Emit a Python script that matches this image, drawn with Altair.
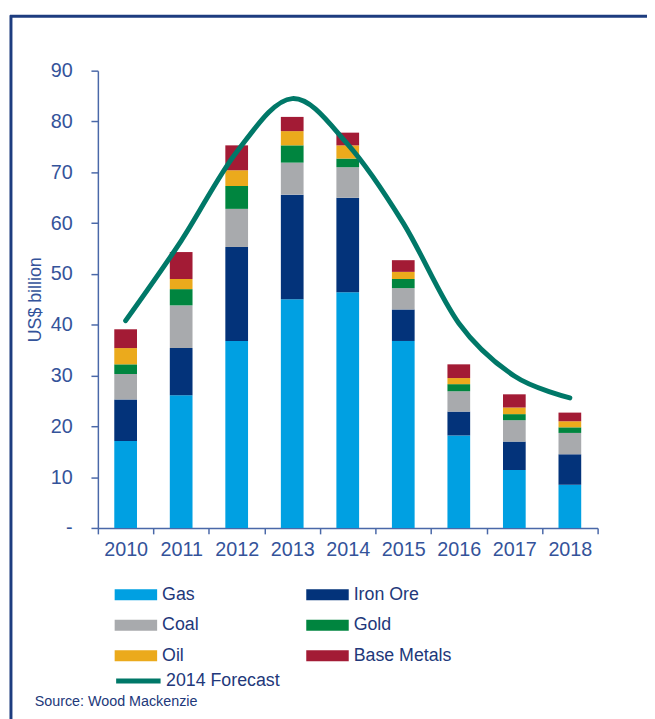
import altair as alt
import pandas as pd

years = ["2010", "2011", "2012", "2013", "2014", "2015", "2016", "2017", "2018"]
commodities = ["Gas", "Iron Ore", "Coal", "Gold", "Oil", "Base Metals"]
legend_order = ["Gas", "Coal", "Oil", "Iron Ore", "Gold", "Base Metals"]
colors = ["#00a0e2", "#03337a", "#a8aaad", "#00853f", "#ebaa1c", "#a31b35"]

gas = [17.1, 26.1, 36.8, 45.0, 46.4, 36.8, 18.2, 11.4, 8.5]
iron_ore = [8.2, 9.3, 18.5, 20.6, 18.6, 6.2, 4.7, 5.6, 6.0]
coal = [5.0, 8.4, 7.5, 6.3, 6.0, 4.2, 4.0, 4.2, 4.2]
gold = [1.9, 3.2, 4.5, 3.4, 1.7, 1.8, 1.4, 1.2, 1.1]
oil = [3.2, 2.0, 3.1, 2.8, 2.6, 1.4, 1.2, 1.3, 1.2]
base_metals = [3.7, 5.3, 4.9, 2.8, 2.5, 2.3, 2.7, 2.6, 1.7]

forecast_name = "2014 Forecast"
forecast = [40.8, 56.5, 74.0, 84.5, 75.5, 60.0, 40.3, 29.9, 25.6]
forecast_color = "#007868"

y_ticks = [0, 10, 20, 30, 40, 50, 60, 70, 80, 90]
y_title = "US$ billion"
source_text = "Source: Wood Mackenzie"

FONT = "Liberation Sans"
AXIS_COLOR = "#4a68a8"
LABEL_COLOR = "#34539a"
TEXT_COLOR = "#22387a"
FRAME_COLOR = "#1d3c7f"

series = [gas, iron_ore, coal, gold, oil, base_metals]
rows = []
for i, yr in enumerate(years):
    for j, (name, vals) in enumerate(zip(commodities, series)):
        rows.append({"year": yr, "commodity": name, "value": vals[i], "order": j})
bars_df = pd.DataFrame(rows)
line_df = pd.DataFrame({"year": years, "value": forecast, "series": [forecast_name] * len(years)})
one = pd.DataFrame({"t": [source_text]})

x_enc = alt.X(
    "year:N",
    scale=alt.Scale(domain=years, paddingInner=0, paddingOuter=0),
    axis=alt.Axis(
        title=None, labelAngle=0, tickBand="extent", tickSize=6, labelPadding=6,
        labelFontSize=20, labelColor=LABEL_COLOR, domainColor=AXIS_COLOR,
        tickColor=AXIS_COLOR, domainWidth=1.5, tickWidth=1.5,
    ),
)
y_scale = alt.Scale(domain=[0, 90], nice=False)

bars = alt.Chart(bars_df).mark_bar(size=23).encode(
    x=x_enc,
    y=alt.Y(
        "value:Q", stack="zero", scale=y_scale,
        axis=alt.Axis(
            values=y_ticks, labelExpr="datum.value == 0 ? '-' : datum.label",
            grid=False, tickSize=7, labelPadding=19, labelFontSize=20,
            labelColor=LABEL_COLOR, domainColor=AXIS_COLOR, tickColor=AXIS_COLOR,
            domainWidth=1.5, tickWidth=1.5,
            title=y_title, titleFontSize=18, titleFontWeight="normal",
            titleColor=LABEL_COLOR, titlePadding=6,
        ),
    ),
    fill=alt.Fill(
        "commodity:N",
        scale=alt.Scale(domain=commodities, range=colors),
        legend=alt.Legend(
            title=None, orient="none", legendX=17, legendY=509, columns=2,
            values=legend_order,
            columnPadding=108, rowPadding=-3.8, padding=0,
            symbolType="M-1,-0.26L1,-0.26L1,0.26L-1,0.26Z", symbolSize=1849,
            symbolStrokeWidth=0, symbolOpacity=1, labelOffset=5,
            labelFontSize=18, labelColor=TEXT_COLOR, labelFont=FONT,
        ),
    ),
    order=alt.Order("order:Q", sort="ascending"),
)

line = alt.Chart(line_df).mark_line(strokeWidth=5, interpolate="cardinal", strokeCap="round").encode(
    x=alt.X("year:N"),
    y=alt.Y("value:Q", scale=y_scale),
    stroke=alt.Stroke(
        "series:N",
        scale=alt.Scale(domain=[forecast_name], range=[forecast_color]),
        legend=alt.Legend(
            title=None, orient="none", legendX=16, legendY=593, padding=0,
            symbolType="stroke", symbolSize=2025, symbolStrokeWidth=5,
            labelOffset=3, labelFontSize=18, labelColor=TEXT_COLOR, labelFont=FONT,
        ),
    ),
)

frame_top = alt.Chart(one).mark_rule(color=FRAME_COLOR, strokeWidth=3).encode(
    x=alt.value(-89), x2=alt.value(560), y=alt.value(-55)
)
frame_left = alt.Chart(one).mark_rule(color=FRAME_COLOR, strokeWidth=3).encode(
    x=alt.value(-88), y=alt.value(-56), y2=alt.value(700)
)
source = alt.Chart(one).mark_text(
    align="left", baseline="middle", fontSize=14.5, color=TEXT_COLOR, font=FONT
).encode(x=alt.value(-64), y=alt.value(639), text="t:N")

chart = alt.layer(bars, line, frame_top, frame_left, source).resolve_scale(
    fill="independent", stroke="independent"
).properties(
    width=506, height=463,
    padding={"left": 91, "top": 59, "right": 50, "bottom": 189},
    autosize=alt.AutoSizeParams(type="none"),
).configure(font=FONT).configure_view(stroke=None)

chart.save("out.html", embed_options={"renderer": "svg", "actions": False})
